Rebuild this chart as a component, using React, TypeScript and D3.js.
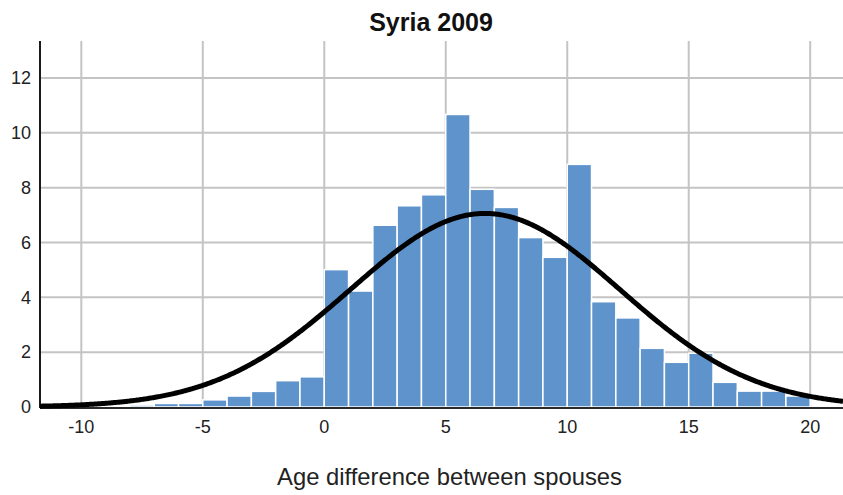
import React from "react";
import * as d3 from "d3";

// Histogram bins (left edge of each 1-year bin) and percent values
const binStarts = [-9, -8, -7, -6, -5, -4, -3, -2, -1, 0, 1, 2, 3, 4, 5, 6, 7, 8, 9, 10, 11, 12, 13, 14, 15, 16, 17, 18, 19];
const percents = [0.03, 0.07, 0.13, 0.13, 0.26, 0.4, 0.57, 0.96, 1.1, 5.01, 4.23, 6.63, 7.34, 7.74, 10.67, 7.94, 7.28, 6.18, 5.46, 8.85, 3.84, 3.25, 2.14, 1.63, 1.96, 0.9, 0.58, 0.58, 0.4];
const binWidth = 1;

// Fitted normal curve parameters
const curveMean = 6.62;
const curveSD = 5.55;
const curvePeak = 7.06;

const xTicks = [-10, -5, 0, 5, 10, 15, 20];
const yTicks = [0, 2, 4, 6, 8, 10, 12];

const title = "Syria 2009";
const xLabel = "Age difference between spouses";

const W = 843;
const H = 495;
const left = 40;
const top = 41;
const bottom = 407;
const right = 843;
const FONT = "'Liberation Sans', Arial, sans-serif";

export default function App() {
  const x = d3.scaleLinear().domain([-11.7, 21.35]).range([left, right]);
  const y = d3.scaleLinear().domain([0, 13.35]).range([bottom, top]);

  const [d0, d1] = x.domain();
  const samples = d3.range(d0, d1 + 0.05, 0.05);
  const line = d3
    .line<number>()
    .x((v) => x(v))
    .y((v) => y(curvePeak * Math.exp(-((v - curveMean) ** 2) / (2 * curveSD * curveSD))))
    .curve(d3.curveLinear);

  return (
    <svg
      width={W}
      height={H}
      style={{ position: "absolute", left: 0, top: 0, background: "#fff" }}
      fontFamily={FONT}
    >
      <rect x={0} y={0} width={W} height={H} fill="#fff" />
      {/* grid */}
      {yTicks.filter((t) => t > 0).map((t) => (
        <line key={"gy" + t} x1={left} x2={right} y1={y(t)} y2={y(t)} stroke="#c4c4c4" strokeWidth={2} />
      ))}
      {xTicks.map((t) => (
        <line key={"gx" + t} x1={x(t)} x2={x(t)} y1={top} y2={bottom} stroke="#c4c4c4" strokeWidth={2} />
      ))}
      {/* bars */}
      {binStarts.map((b, i) => (
        <rect
          key={"b" + b}
          x={x(b)}
          y={y(percents[i])}
          width={x(b + binWidth) - x(b)}
          height={y(0) - y(percents[i])}
          fill="#5f93cb"
          stroke="#ffffff"
          strokeWidth={1.5}
        />
      ))}
      {/* axes */}
      <line x1={left} x2={left} y1={top} y2={bottom + 1} stroke="#1a1a1a" strokeWidth={2} />
      <line x1={left} x2={right} y1={bottom + 1} y2={bottom + 1} stroke="#2a2a2a" strokeWidth={2} />
      {/* normal curve */}
      <path d={line(samples) || ""} fill="none" stroke="#000" strokeWidth={5} strokeLinejoin="round" />
      {/* tick labels */}
      {yTicks.map((t) => (
        <text key={"ty" + t} x={31} y={y(t)} dy="0.35em" textAnchor="end" fontSize={18} fill="#222">
          {t}
        </text>
      ))}
      {xTicks.map((t) => (
        <text key={"tx" + t} x={x(t)} y={433} textAnchor="middle" fontSize={18} fill="#222">
          {t}
        </text>
      ))}
      <text x={431} y={31} textAnchor="middle" fontSize={25} fontWeight="bold" fill="#111">
        {title}
      </text>
      <text x={449.5} y={485} textAnchor="middle" fontSize={23.8} fill="#222">
        {xLabel}
      </text>
    </svg>
  );
}
